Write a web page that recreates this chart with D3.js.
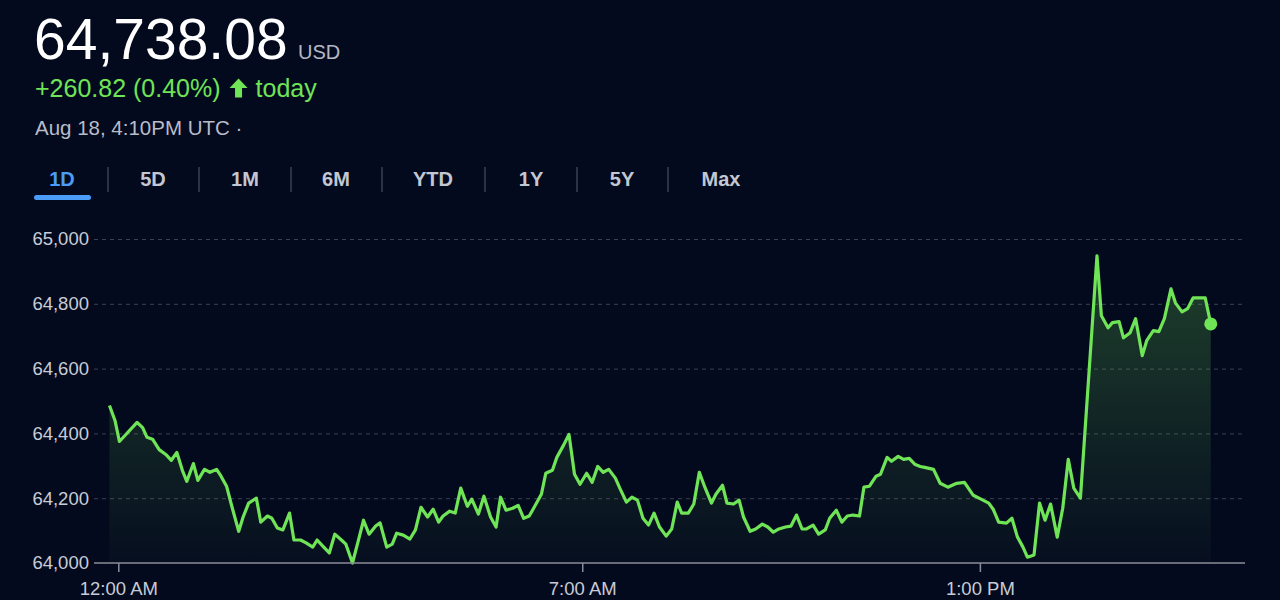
<!DOCTYPE html>
<html>
<head>
<meta charset="utf-8">
<script src="https://cdn.jsdelivr.net/npm/d3@7"></script>
<style>
  html, body { margin: 0; padding: 0; background: #040a1e; }
  svg { display: block; font-family: 'Liberation Sans', Arial, sans-serif; }
</style>
</head>
<body>
<svg id="chart" width="1280" height="600"></svg>
<script>
// minutes from midnight (local) for each quote
const minutes = [
  -8, -3, 1, 17, 22, 26, 31, 37, 43, 48, 53, 58, 62, 68, 72, 78, 83, 89, 93, 98,
  103, 109, 113, 118, 125, 129, 135, 139, 144, 149, 155, 159, 165, 170, 176, 180, 186, 191, 196, 202,
  206, 212, 217, 222, 227, 233, 237, 243, 248, 252, 258, 264, 269, 274, 280, 285, 290, 294, 300, 305,
  310, 316, 320, 326, 331, 337, 342, 346, 351, 357, 362, 367, 372, 377, 383, 387, 393, 397, 403, 408,
  413, 418, 424, 429, 434, 439, 444, 450, 454, 460, 465, 470, 475, 480, 485, 490, 496, 501, 506, 510,
  516, 521, 526, 531, 537, 541, 547, 551, 557, 562, 566, 572, 577, 583, 588, 593, 598, 604, 609, 614,
  619, 623, 629, 634, 640, 644, 650, 655, 660, 665, 671, 675, 680, 686, 690, 696, 700, 706, 711, 716,
  721, 726, 730, 738, 744, 751, 759, 766, 774, 781, 788, 792, 797, 804, 809, 814, 819, 823, 829, 834,
  839, 844, 850, 855, 860, 865, 871, 886, 890, 896, 900, 906, 910, 916, 921, 927, 931, 937, 942, 947,
  953, 957, 963, 968, 973, 978, 984, 989
]
const prices = [
  64486, 64440, 64375, 64434, 64418, 64388, 64382, 64350, 64335, 64317, 64341, 64286, 64252, 64307, 64255, 64289, 64280, 64289, 64268, 64237,
  64172, 64098, 64142, 64185, 64200, 64126, 64145, 64138, 64108, 64102, 64154, 64071, 64071, 64062, 64049, 64071, 64049, 64031, 64089, 64071,
  64058, 64000, 64065, 64132, 64089, 64114, 64124, 64049, 64058, 64092, 64086, 64074, 64102, 64172, 64142, 64166, 64126, 64145, 64160, 64154,
  64231, 64175, 64197, 64151, 64206, 64142, 64111, 64203, 64163, 64169, 64178, 64138, 64145, 64175, 64212, 64277, 64286, 64326, 64363, 64397,
  64274, 64243, 64277, 64249, 64298, 64280, 64289, 64262, 64231, 64188, 64203, 64194, 64138, 64117, 64154, 64111, 64083, 64105, 64188, 64154,
  64154, 64182, 64280, 64234, 64185, 64212, 64240, 64185, 64182, 64194, 64142, 64098, 64105, 64120, 64111, 64095, 64105, 64111, 64114, 64148,
  64105, 64105, 64117, 64089, 64102, 64138, 64163, 64126, 64145, 64148, 64145, 64234, 64237, 64268, 64274, 64326, 64314, 64329, 64320, 64323,
  64305, 64298, 64295, 64289, 64246, 64234, 64246, 64249, 64209, 64197, 64185, 64166, 64126, 64123, 64138, 64080, 64049, 64018, 64025, 64185,
  64132, 64182, 64080, 64169, 64320, 64231, 64200, 64948, 64763, 64726, 64742, 64745, 64695, 64711, 64754, 64640, 64686, 64717, 64714, 64754,
  64846, 64803, 64775, 64785, 64818, 64818, 64818, 64738
]
const yTicks = [64000, 64200, 64400, 64600, 64800, 65000]
const xTicks = [0, 420, 780]
const xTickLabels = ['12:00 AM', '7:00 AM', '1:00 PM']
const ranges = ['1D', '5D', '1M', '6M', 'YTD', '1Y', '5Y', 'Max']

const lastPrice = '64,738.08'
const currency = 'USD'
const change = '+260.82 (0.40%)'
const timestamp = 'Aug 18, 4:10PM UTC \u00b7'

const green = '#70e457'
const data = minutes.map((m, i) => ({ m, v: prices[i] }))

const svg = d3.select('#chart')

// header
svg.append('text')
  .attr('x', 34).attr('y', 59)
  .attr('fill', '#ffffff')
  .attr('font-size', 57)
  .text(lastPrice)

svg.append('text')
  .attr('x', 298).attr('y', 59)
  .attr('fill', '#b4b8c4')
  .attr('font-size', 20)
  .text(currency)

const changeText = svg.append('text')
  .attr('x', 35).attr('y', 97)
  .attr('fill', green)
  .attr('font-size', 25)
  .text(change)

const changeEnd = 35 + changeText.node().getComputedTextLength()
svg.append('path')
  .attr('transform', `translate(${changeEnd + 18},88)`)
  .attr('fill', green)
  .attr('d', 'M0,-9.5 L9,0 L3.5,0 L3.5,9.5 L-3.5,9.5 L-3.5,0 L-9,0 Z')

svg.append('text')
  .attr('x', changeEnd + 35).attr('y', 97)
  .attr('fill', green)
  .attr('font-size', 25)
  .text('today')

svg.append('text')
  .attr('x', 35).attr('y', 135)
  .attr('fill', '#b8bcc8')
  .attr('font-size', 20.5)
  .text(timestamp)

// range tabs
const tabCenters = [62, 153, 245, 336, 433, 531, 622, 721]
const tabSeparators = [108, 199, 291, 382, 485, 577, 668]

svg.append('g')
  .selectAll('text')
  .data(ranges)
  .enter().append('text')
  .attr('x', (d, i) => tabCenters[i])
  .attr('y', 186)
  .attr('text-anchor', 'middle')
  .attr('font-size', 20)
  .attr('font-weight', 'bold')
  .attr('fill', (d, i) => i === 0 ? '#4a9cf6' : '#c3c7d2')
  .text((d) => d)

svg.append('g')
  .selectAll('line')
  .data(tabSeparators)
  .enter().append('line')
  .attr('x1', (d) => d)
  .attr('x2', (d) => d)
  .attr('y1', 167).attr('y2', 192)
  .attr('stroke', '#3a3f52')
  .attr('stroke-width', 1.5)

svg.append('rect')
  .attr('x', 34).attr('y', 195)
  .attr('width', 57).attr('height', 5)
  .attr('rx', 2.5)
  .attr('fill', '#4a9cf6')

// chart
const plotLeft = 94, plotRight = 1245, plotTop = 239, plotBottom = 563

const x = d3.scaleLinear()
  .domain([-22, 1020])
  .range([plotLeft, plotRight])

const y = d3.scaleLinear()
  .domain([64000, 65000])
  .range([plotBottom, plotTop])

const defs = svg.append('defs')
const grad = defs.append('linearGradient')
  .attr('id', 'fillGrad')
  .attr('gradientUnits', 'userSpaceOnUse')
  .attr('x1', 0).attr('x2', 0)
  .attr('y1', y(65000)).attr('y2', y(64000))
grad.append('stop').attr('offset', '0%').attr('stop-color', green).attr('stop-opacity', 0.26)
grad.append('stop').attr('offset', '100%').attr('stop-color', green).attr('stop-opacity', 0.02)

// y grid + labels
const yAxis = d3.axisLeft(y)
  .tickValues(yTicks)
  .tickSize(-(plotRight - plotLeft))
  .tickPadding(5)
  .tickFormat(d3.format(','))

const yG = svg.append('g')
  .attr('transform', `translate(${plotLeft},0)`)
  .call(yAxis)
yG.select('.domain').remove()
yG.selectAll('.tick line')
  .attr('stroke', '#3b4053')
  .attr('stroke-dasharray', '4,4')
  .attr('stroke-width', 1)
  .filter((d) => d === 64000).remove()
yG.selectAll('.tick text')
  .attr('fill', '#c8ccd6')
  .attr('font-size', 18.5)
  .attr('font-family', "'Liberation Sans', Arial, sans-serif")

// area + line
const area = d3.area()
  .x((d) => x(d.m))
  .y0(y(64000))
  .y1((d) => y(d.v))

svg.append('path')
  .datum(data)
  .attr('d', area)
  .attr('fill', 'url(#fillGrad)')

const line = d3.line()
  .x((d) => x(d.m))
  .y((d) => y(d.v))

svg.append('path')
  .datum(data)
  .attr('d', line)
  .attr('fill', 'none')
  .attr('stroke', green)
  .attr('stroke-width', 3.2)
  .attr('stroke-linejoin', 'round')

const last = data[data.length - 1]
svg.append('circle')
  .attr('cx', x(last.m))
  .attr('cy', y(last.v))
  .attr('r', 6.5)
  .attr('fill', green)

// x axis
const xAxis = d3.axisBottom(x)
  .tickValues(xTicks)
  .tickSize(9)
  .tickPadding(10)
  .tickFormat((d, i) => xTickLabels[i])

const xG = svg.append('g')
  .attr('transform', `translate(0,${plotBottom})`)
  .call(xAxis)
xG.select('.domain')
  .attr('stroke', '#8a8e99')
  .attr('stroke-width', 1.5)
  .attr('d', `M${plotLeft},0H${plotRight}`)
xG.selectAll('.tick line')
  .attr('stroke', '#8a8e99')
  .attr('stroke-width', 1.5)
xG.selectAll('.tick text')
  .attr('fill', '#c8ccd6')
  .attr('font-size', 18.5)
  .attr('font-family', "'Liberation Sans', Arial, sans-serif")
</script>
</body>
</html>
